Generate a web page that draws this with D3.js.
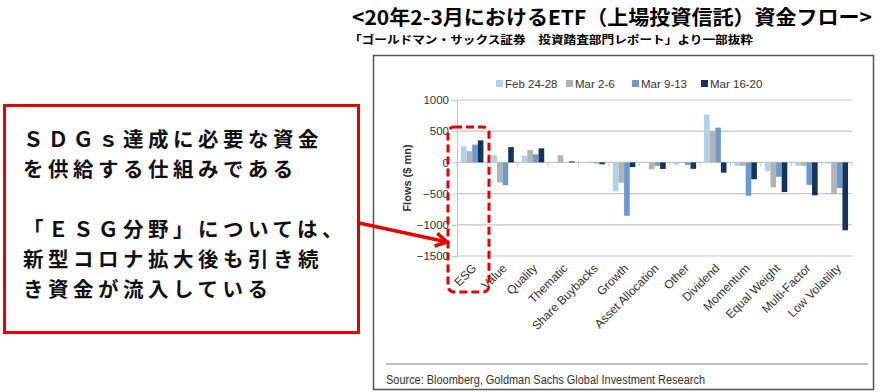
<!DOCTYPE html>
<html><head><meta charset="utf-8">
<script src="https://cdn.jsdelivr.net/npm/d3@7"></script>
<style>
html,body{margin:0;padding:0;background:#fff;}
svg{display:block;}
</style></head>
<body><svg id="c" width="890" height="392"></svg>
<script>
const categories = ["ESG","Value","Quality","Thematic","Share Buybacks","Growth","Asset Allocation","Other","Dividend","Momentum","Equal Weight","Multi-Factor","Low Volatility"];
const seriesNames = ["Feb 24-28","Mar 2-6","Mar 9-13","Mar 16-20"];
const feb24_28 = [258, 115, 105, 5, -8, -462, -10, -38, 765, -55, -140, -55, -20];
const mar2_6   = [179, -321, 200, 115, -10, -325, -110, -10, 497, -55, -400, -55, -510];
const mar9_13  = [285, -365, 130, 0, -15, -855, -55, -40, 557, -535, -230, -360, -410];
const mar16_20 = [353, 245, 225, 15, -30, -75, -105, -103, -165, -270, -475, -528, -1088];
const yTicks = [1000, 500, 0, -500, -1000, -1500];
const colors = ["#aed3ec", "#b3b3b3", "#6e99cf", "#16325d"];
const titleText = "<20年2-3月におけるETF（上場投資信託）資金フロー>";
const subtitleText = "「ゴールドマン・サックス証券　投資踏査部門レポート」より一部抜粋";
const boxLines = ["ＳＤＧｓ達成に必要な資金","を供給する仕組みである","","「ＥＳＧ分野」については、","新型コロナ拡大後も引き続","き資金が流入している"];
const sourceText = "Source: Bloomberg, Goldman Sachs Global Investment Research";
const yTitle = "Flows ($ mn)";

const allSeries = [feb24_28, mar2_6, mar9_13, mar16_20];
const svg = d3.select("#c");
const jp = "'Noto Sans CJK JP','Noto Sans',sans-serif";
const lat = "'Liberation Sans',Arial,sans-serif";

// Title
svg.append("text").attr("x", 352).attr("y", 24.5).attr("font-family", jp).attr("font-weight", "bold")
  .attr("font-size", 20).attr("fill", "#000").attr("textLength", 520).attr("lengthAdjust", "spacingAndGlyphs").text(titleText);
svg.append("text").attr("x", 349).attr("y", 43.5).attr("font-family", jp).attr("font-weight", "bold")
  .attr("font-size", 11).attr("fill", "#000").attr("textLength", 404).attr("lengthAdjust", "spacingAndGlyphs").text(subtitleText);

// Chart frame
svg.append("rect").attr("x", 373.5).attr("y", 55.5).attr("width", 500).attr("height", 334)
  .attr("fill", "#fff").attr("stroke", "#555").attr("stroke-width", 1.5);

const x0 = d3.scaleBand().domain(categories).range([457, 852]).paddingInner(0.26).paddingOuter(0.13);
const x1 = d3.scaleBand().domain(seriesNames).range([0, x0.bandwidth()]);
const y = d3.scaleLinear().domain([-1500, 1000]).range([256, 100]);

// grid
svg.append("g").selectAll("line").data(yTicks).join("line")
  .attr("x1", 457).attr("x2", 852).attr("y1", d => y(d)).attr("y2", d => y(d))
  .attr("stroke", "#c6c6c6").attr("stroke-width", 1.2);

// y axis
const yAxis = svg.append("g").attr("transform", "translate(457,0)")
  .call(d3.axisLeft(y).tickValues(yTicks).tickSize(5).tickPadding(3).tickFormat(d3.format("d")));
yAxis.select(".domain").attr("stroke", "#c6c6c6");
yAxis.selectAll(".tick line").attr("stroke", "#c6c6c6");
yAxis.selectAll("text").attr("font-family", lat).attr("font-size", 11.5).attr("fill", "#333");

svg.append("text").attr("transform", `translate(411,${y(-250)}) rotate(-90)`).attr("text-anchor", "middle")
  .attr("font-family", lat).attr("font-weight", "bold").attr("font-size", 11).attr("fill", "#333").text(yTitle);

// category tick marks on zero line
const bounds = categories.map(c => x0(c) - x0.step() * x0.paddingInner() / 2).concat([852]);
svg.append("g").selectAll("line").data(bounds).join("line")
  .attr("x1", d => d).attr("x2", d => d).attr("y1", y(0)).attr("y2", y(0) + 4)
  .attr("stroke", "#c6c6c6");

// bars
const g = svg.append("g");
categories.forEach((c, i) => {
  seriesNames.forEach((s, j) => {
    const v = allSeries[j][i];
    g.append("rect").attr("x", x0(c) + x1(s)).attr("width", x1.bandwidth())
      .attr("y", y(Math.max(0, v))).attr("height", Math.abs(y(v) - y(0)))
      .attr("fill", colors[j]);
  });
});

// x labels
svg.append("g").selectAll("text").data(categories).join("text")
  .attr("transform", d => `translate(${x0(d) + x0.bandwidth() / 2 + 5},${269}) rotate(-45)`)
  .attr("text-anchor", "end").attr("font-family", lat).attr("font-size", 12).attr("fill", "#333").text(d => d);

// legend
const legX = [496, 566, 632, 701];
const leg = svg.append("g");
seriesNames.forEach((s, j) => {
  leg.append("rect").attr("x", legX[j]).attr("y", 80).attr("width", 7).attr("height", 7).attr("fill", colors[j]);
  leg.append("text").attr("x", legX[j] + 9).attr("y", 88).attr("font-family", lat).attr("font-size", 11.5)
    .attr("fill", "#333").text(s);
});

// source
svg.append("line").attr("x1", 386).attr("x2", 868).attr("y1", 364).attr("y2", 364).attr("stroke", "#aaa").attr("stroke-width", 1.5);
svg.append("text").attr("x", 386).attr("y", 384).attr("font-family", lat).attr("font-size", 12).attr("fill", "#333")
  .attr("textLength", 319).attr("lengthAdjust", "spacingAndGlyphs").text(sourceText);

// red dashed box around ESG
svg.append("rect").attr("x", 448).attr("y", 127).attr("width", 41).attr("height", 165).attr("rx", 6)
  .attr("fill", "none").attr("stroke", "#e60000").attr("stroke-width", 3).attr("stroke-dasharray", "8,4");

// left text box
svg.append("rect").attr("x", 4.5).attr("y", 105.5).attr("width", 354).attr("height", 227)
  .attr("fill", "#fff").attr("stroke", "#e60000").attr("stroke-width", 3);
const lineY = [147, 177, 207, 237, 267, 297];
boxLines.forEach((t, i) => {
  if (!t) return;
  svg.append("text").attr("x", 23).attr("y", lineY[i]).attr("font-family", jp).attr("font-weight", "bold")
    .attr("font-size", 20.5).attr("letter-spacing", 4.5).attr("fill", "#111").text(t);
});

// arrow
const ax0 = 359, ay0 = 223, ax1 = 447, ay1 = 242;
svg.append("line").attr("x1", ax0).attr("y1", ay0).attr("x2", ax1).attr("y2", ay1)
  .attr("stroke", "#e60000").attr("stroke-width", 3.5);
const ang = Math.atan2(ay1 - ay0, ax1 - ax0);
const hl = 13, ha = Math.PI / 6;
svg.append("path").attr("d", `M${ax1 - hl * Math.cos(ang - ha)},${ay1 - hl * Math.sin(ang - ha)} L${ax1},${ay1} L${ax1 - hl * Math.cos(ang + ha)},${ay1 - hl * Math.sin(ang + ha)}`)
  .attr("fill", "none").attr("stroke", "#e60000").attr("stroke-width", 3.5).attr("stroke-linejoin", "miter");
</script>
</body></html>
